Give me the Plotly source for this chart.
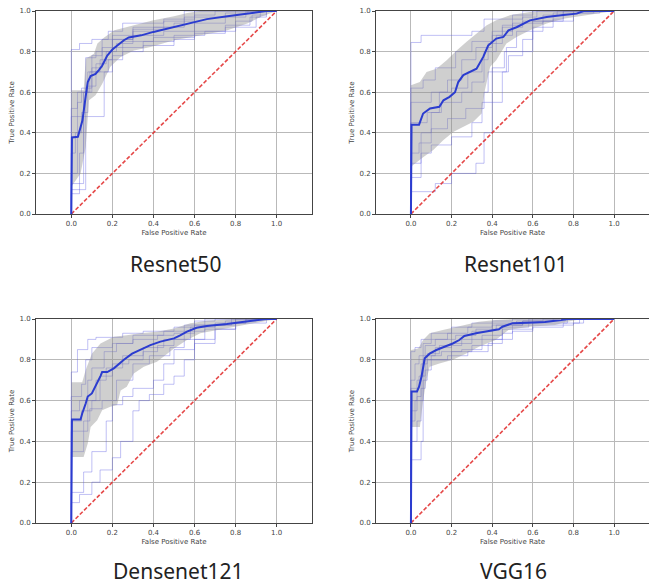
import plotly.graph_objects as go

# ---------------- data ----------------
titles = ["Resnet50", "Resnet101", "Densenet121", "VGG16"]
x_ticks = [0.0, 0.2, 0.4, 0.6, 0.8, 1.0]
y_ticks = [0.0, 0.2, 0.4, 0.6, 0.8, 1.0]
diag = [0.0, 1.0]

# Resnet50
r50_mean_fpr = [0, 0.003, 0.032, 0.054, 0.07, 0.08, 0.094, 0.118, 0.135, 0.15, 0.175, 0.2, 0.224, 0.256, 0.28, 0.34, 0.4, 0.5, 0.6, 0.66, 0.76, 0.89, 0.95, 1.0]
r50_mean_tpr = [0, 0.377, 0.38, 0.46, 0.58, 0.65, 0.68, 0.69, 0.71, 0.73, 0.78, 0.81, 0.83, 0.856, 0.87, 0.88, 0.897, 0.92, 0.946, 0.96, 0.974, 0.99, 1.0, 1.0]
r50_up_fpr = [0, 0.06, 0.07, 0.11, 0.127, 0.16, 0.21, 0.3, 0.4, 0.5, 0.565, 0.63, 1.0]
r50_up_tpr = [0.61, 0.61, 0.765, 0.79, 0.84, 0.87, 0.905, 0.93, 0.954, 0.974, 0.99, 1.0, 1.0]
r50_lo_fpr = [0, 0.045, 0.07, 0.086, 0.118, 0.15, 0.19, 0.24, 0.305, 0.386, 0.5, 0.63, 0.76, 0.857, 0.92, 1.0]
r50_lo_tpr = [0.134, 0.2, 0.33, 0.56, 0.585, 0.64, 0.725, 0.774, 0.806, 0.823, 0.856, 0.88, 0.905, 0.938, 0.97, 1.0]
r50_folds = [
    [(0, 0), (0, 0.81), (0.04, 0.84), (0.1, 0.86), (0.18, 0.9), (0.25, 0.94), (0.45, 0.96), (0.55, 1.0), (1, 1)],
    [(0, 0), (0, 0.12), (0.07, 0.77), (0.12, 0.8), (0.2, 0.86), (0.3, 0.88), (0.45, 0.9), (0.6, 0.94), (0.75, 0.97), (0.85, 1.0), (1, 1)],
    [(0, 0), (0, 0.15), (0.06, 0.6), (0.09, 0.7), (0.14, 0.76), (0.2, 0.82), (0.35, 0.85), (0.5, 0.88), (0.65, 0.9), (0.8, 0.95), (0.88, 0.98), (0.95, 1.0), (1, 1)],
    [(0, 0), (0, 0.48), (0.16, 0.7), (0.2, 0.78), (0.25, 0.85), (0.4, 0.87), (0.6, 0.9), (0.75, 0.93), (0.87, 0.97), (0.92, 1.0), (1, 1)],
    [(0, 0), (0, 0.52), (0.03, 0.6), (0.08, 0.7), (0.12, 0.74), (0.17, 0.8), (0.22, 0.84), (0.3, 0.9), (0.4, 0.92), (0.55, 0.96), (0.6, 0.98), (0.7, 1.0), (1, 1)],
    [(0, 0), (0, 0.2), (0.03, 0.55), (0.05, 0.62), (0.1, 0.78), (0.15, 0.86), (0.3, 0.92), (0.5, 0.94), (0.55, 0.97), (0.6, 1.0), (1, 1)],
    [(0, 0), (0, 0.3), (0.02, 0.4), (0.05, 0.5), (0.08, 0.63), (0.12, 0.7), (0.18, 0.76), (0.25, 0.8), (0.35, 0.83), (0.5, 0.86), (0.6, 0.89), (0.75, 0.92), (0.9, 0.97), (0.95, 1.0), (1, 1)],
    [(0, 0), (0, 0.1), (0.04, 0.3), (0.06, 0.6), (0.1, 0.72), (0.15, 0.82), (0.2, 0.88), (0.3, 0.91), (0.45, 0.95), (0.6, 0.97), (0.75, 0.99), (0.86, 1.0), (1, 1)],
]

# Resnet101
r101_mean_fpr = [0, 0.003, 0.04, 0.06, 0.094, 0.14, 0.16, 0.19, 0.217, 0.233, 0.258, 0.29, 0.323, 0.356, 0.38, 0.42, 0.455, 0.48, 0.52, 0.586, 0.668, 0.75, 0.816, 0.85, 1.0]
r101_mean_tpr = [0, 0.44, 0.44, 0.495, 0.52, 0.528, 0.56, 0.577, 0.6, 0.65, 0.684, 0.7, 0.716, 0.774, 0.83, 0.864, 0.872, 0.905, 0.92, 0.954, 0.97, 0.98, 0.987, 1.0, 1.0]
r101_up_fpr = [0, 0.044, 0.077, 0.126, 0.176, 0.225, 0.274, 0.323, 0.373, 0.42, 0.49, 0.586, 0.67, 1.0]
r101_up_tpr = [0.634, 0.65, 0.7, 0.716, 0.757, 0.806, 0.848, 0.888, 0.93, 0.954, 0.98, 0.995, 1.0, 1.0]
r101_lo_fpr = [0, 0.06, 0.11, 0.16, 0.21, 0.258, 0.307, 0.348, 0.364, 0.39, 0.42, 0.47, 0.52, 0.586, 0.668, 0.75, 0.85, 1.0]
r101_lo_tpr = [0.233, 0.28, 0.315, 0.364, 0.405, 0.43, 0.454, 0.495, 0.61, 0.725, 0.757, 0.84, 0.872, 0.905, 0.938, 0.962, 0.978, 1.0]
r101_folds = [
    [(0, 0), (0, 0.11), (0.12, 0.15), (0.2, 0.2), (0.32, 0.25), (0.36, 0.4), (0.4, 0.55), (0.45, 0.7), (0.48, 0.78), (0.55, 0.8), (0.6, 0.9), (0.65, 0.95), (0.75, 1.0), (1, 1)],
    [(0, 0), (0, 0.845), (0.05, 0.88), (0.3, 0.9), (0.36, 0.96), (0.5, 0.98), (0.6, 1.0), (1, 1)],
    [(0, 0), (0, 0.62), (0.06, 0.66), (0.12, 0.72), (0.22, 0.8), (0.3, 0.85), (0.4, 0.9), (0.5, 0.96), (0.55, 1.0), (1, 1)],
    [(0, 0), (0, 0.25), (0.05, 0.4), (0.1, 0.5), (0.15, 0.55), (0.25, 0.6), (0.3, 0.65), (0.36, 0.8), (0.42, 0.88), (0.5, 0.94), (0.65, 0.98), (0.72, 1.0), (1, 1)],
    [(0, 0), (0, 0.45), (0.08, 0.5), (0.14, 0.6), (0.2, 0.62), (0.28, 0.7), (0.35, 0.76), (0.38, 0.84), (0.45, 0.92), (0.55, 0.95), (0.7, 0.99), (0.93, 1.0), (1, 1)],
    [(0, 0), (0, 0.3), (0.04, 0.35), (0.1, 0.42), (0.18, 0.47), (0.27, 0.52), (0.36, 0.6), (0.38, 0.7), (0.47, 0.82), (0.52, 0.9), (0.6, 0.95), (0.8, 0.99), (0.9, 1.0), (1, 1)],
    [(0, 0), (0, 0.55), (0.1, 0.6), (0.18, 0.66), (0.25, 0.76), (0.32, 0.82), (0.4, 0.88), (0.45, 0.93), (0.55, 0.97), (0.62, 1.0), (1, 1)],
    [(0, 0), (0, 0.18), (0.05, 0.3), (0.1, 0.34), (0.2, 0.38), (0.3, 0.45), (0.35, 0.55), (0.4, 0.72), (0.46, 0.8), (0.55, 0.86), (0.6, 0.92), (0.7, 0.96), (0.75, 1.0), (1, 1)],
]

# Densenet121
d121_mean_fpr = [0, 0.003, 0.045, 0.053, 0.07, 0.08, 0.1, 0.126, 0.142, 0.15, 0.175, 0.207, 0.23, 0.256, 0.296, 0.337, 0.385, 0.434, 0.5, 0.53, 0.563, 0.61, 0.66, 0.757, 0.822, 0.903, 0.95, 1.0]
d121_mean_tpr = [0, 0.507, 0.507, 0.537, 0.586, 0.62, 0.635, 0.684, 0.72, 0.74, 0.74, 0.758, 0.78, 0.8, 0.83, 0.848, 0.872, 0.889, 0.905, 0.92, 0.938, 0.957, 0.966, 0.975, 0.984, 0.992, 1.0, 1.0]
d121_up_fpr = [0, 0.053, 0.07, 0.1, 0.142, 0.207, 0.27, 0.337, 0.417, 0.5, 0.58, 0.66, 0.79, 1.0]
d121_up_tpr = [0.69, 0.69, 0.75, 0.83, 0.88, 0.913, 0.92, 0.93, 0.938, 0.954, 0.979, 0.992, 1.0, 1.0]
d121_lo_fpr = [0, 0.06, 0.08, 0.094, 0.126, 0.15, 0.19, 0.223, 0.24, 0.27, 0.304, 0.353, 0.417, 0.5, 0.563, 0.628, 0.757, 0.887, 1.0]
d121_lo_tpr = [0.324, 0.324, 0.39, 0.47, 0.504, 0.553, 0.57, 0.578, 0.65, 0.668, 0.733, 0.766, 0.79, 0.856, 0.897, 0.93, 0.954, 0.979, 1.0]
d121_folds = [
    [(0, 0), (0, 0.1), (0.04, 0.14), (0.1, 0.2), (0.14, 0.26), (0.2, 0.32), (0.24, 0.4), (0.3, 0.55), (0.33, 0.6), (0.38, 0.63), (0.45, 0.68), (0.5, 0.72), (0.55, 0.8), (0.6, 0.88), (0.7, 0.95), (0.8, 0.98), (0.85, 1.0), (1, 1)],
    [(0, 0), (0, 0.15), (0.06, 0.25), (0.1, 0.35), (0.17, 0.5), (0.2, 0.58), (0.25, 0.62), (0.3, 0.66), (0.4, 0.7), (0.45, 0.78), (0.5, 0.85), (0.6, 0.9), (0.7, 0.97), (0.8, 1.0), (1, 1)],
    [(0, 0), (0, 0.74), (0.03, 0.85), (0.08, 0.9), (0.12, 0.91), (0.25, 0.93), (0.35, 0.94), (0.5, 0.96), (0.6, 0.99), (0.7, 1.0), (1, 1)],
    [(0, 0), (0, 0.62), (0.05, 0.68), (0.07, 0.8), (0.1, 0.86), (0.2, 0.88), (0.3, 0.92), (0.45, 0.94), (0.55, 0.97), (0.65, 1.0), (1, 1)],
    [(0, 0), (0, 0.35), (0.06, 0.45), (0.08, 0.6), (0.12, 0.7), (0.17, 0.76), (0.25, 0.82), (0.35, 0.86), (0.45, 0.9), (0.55, 0.94), (0.65, 0.97), (0.78, 1.0), (1, 1)],
    [(0, 0), (0, 0.5), (0.05, 0.55), (0.1, 0.6), (0.14, 0.72), (0.2, 0.78), (0.28, 0.8), (0.35, 0.84), (0.42, 0.87), (0.5, 0.9), (0.58, 0.96), (0.7, 0.98), (0.85, 1.0), (1, 1)],
    [(0, 0), (0, 0.55), (0.04, 0.6), (0.08, 0.7), (0.1, 0.76), (0.16, 0.84), (0.22, 0.88), (0.3, 0.9), (0.42, 0.92), (0.5, 0.93), (0.6, 0.97), (0.75, 0.99), (0.9, 1.0), (1, 1)],
    [(0, 0), (0, 0.45), (0.06, 0.5), (0.09, 0.56), (0.15, 0.6), (0.22, 0.7), (0.3, 0.78), (0.38, 0.82), (0.48, 0.86), (0.55, 0.9), (0.65, 0.95), (0.8, 0.98), (0.95, 1.0), (1, 1)],
]

# VGG16
vgg_mean_fpr = [0, 0.003, 0.03, 0.04, 0.052, 0.068, 0.092, 0.125, 0.165, 0.206, 0.238, 0.263, 0.32, 0.384, 0.433, 0.45, 0.5, 0.58, 0.66, 0.74, 0.773, 1.0]
vgg_mean_tpr = [0, 0.645, 0.645, 0.668, 0.717, 0.807, 0.83, 0.848, 0.864, 0.88, 0.897, 0.917, 0.93, 0.94, 0.95, 0.962, 0.979, 0.982, 0.985, 0.995, 1.0, 1.0]
vgg_up_fpr = [0, 0.036, 0.06, 0.092, 0.157, 0.254, 0.335, 0.417, 0.5, 1.0]
vgg_up_tpr = [0.848, 0.856, 0.897, 0.93, 0.946, 0.97, 0.987, 0.995, 1.0, 1.0]
vgg_lo_fpr = [0, 0.044, 0.06, 0.076, 0.092, 0.14, 0.206, 0.27, 0.335, 0.417, 0.48, 0.58, 0.71, 0.77, 0.84, 1.0]
vgg_lo_tpr = [0.47, 0.47, 0.6, 0.7, 0.766, 0.782, 0.8, 0.83, 0.864, 0.897, 0.946, 0.962, 0.97, 0.987, 1.0, 1.0]
vgg_folds = [
    [(0, 0), (0, 0.31), (0.05, 0.4), (0.06, 0.8), (0.1, 0.82), (0.15, 0.84), (0.25, 0.85), (0.35, 0.9), (0.45, 0.93), (0.5, 0.97), (0.6, 0.98), (0.77, 1.0), (1, 1)],
    [(0, 0), (0, 0.84), (0.02, 0.86), (0.05, 0.9), (0.1, 0.93), (0.2, 0.96), (0.3, 0.98), (0.4, 0.99), (0.5, 1.0), (1, 1)],
    [(0, 0), (0, 0.4), (0.03, 0.5), (0.05, 0.72), (0.07, 0.82), (0.12, 0.86), (0.2, 0.88), (0.3, 0.94), (0.4, 0.97), (0.55, 0.99), (0.7, 1.0), (1, 1)],
    [(0, 0), (0, 0.6), (0.03, 0.7), (0.05, 0.78), (0.08, 0.8), (0.18, 0.82), (0.28, 0.84), (0.38, 0.88), (0.45, 0.95), (0.6, 0.97), (0.8, 0.98), (0.83, 1.0), (1, 1)],
    [(0, 0), (0, 0.7), (0.02, 0.78), (0.04, 0.82), (0.07, 0.87), (0.12, 0.9), (0.22, 0.92), (0.32, 0.95), (0.42, 0.97), (0.55, 0.99), (0.65, 1.0), (1, 1)],
    [(0, 0), (0, 0.5), (0.02, 0.6), (0.06, 0.7), (0.08, 0.83), (0.14, 0.87), (0.25, 0.9), (0.35, 0.92), (0.45, 0.96), (0.58, 1.0), (1, 1)],
    [(0, 0), (0, 0.66), (0.04, 0.72), (0.06, 0.88), (0.1, 0.9), (0.18, 0.93), (0.28, 0.96), (0.4, 0.98), (0.52, 0.99), (0.76, 1.0), (1, 1)],
    [(0, 0), (0, 0.55), (0.03, 0.62), (0.05, 0.66), (0.07, 0.75), (0.1, 0.8), (0.2, 0.84), (0.3, 0.87), (0.4, 0.9), (0.5, 0.94), (0.6, 0.96), (0.75, 0.98), (0.85, 1.0), (1, 1)],
]

panels = [
    (r50_mean_fpr, r50_mean_tpr, r50_up_fpr, r50_up_tpr, r50_lo_fpr, r50_lo_tpr, r50_folds),
    (r101_mean_fpr, r101_mean_tpr, r101_up_fpr, r101_up_tpr, r101_lo_fpr, r101_lo_tpr, r101_folds),
    (d121_mean_fpr, d121_mean_tpr, d121_up_fpr, d121_up_tpr, d121_lo_fpr, d121_lo_tpr, d121_folds),
    (vgg_mean_fpr, vgg_mean_tpr, vgg_up_fpr, vgg_up_tpr, vgg_lo_fpr, vgg_lo_tpr, vgg_folds),
]

# ---------------- layout geometry (pixels) ----------------
W, H = 649, 587
boxes = [  # left, right, top, bottom in px
    (36, 312, 11, 214),
    (376, 649, 11, 214),
    (36, 312, 319, 523),
    (376, 649, 319, 523),
]
title_pos = [(175, 264), (515, 264), (178, 571), (513, 571)]

FOLD_COLOR = "rgba(90,90,225,0.38)"
BAND_COLOR = "rgba(140,140,140,0.42)"
MEAN_COLOR = "#2b3ccf"
DIAG_COLOR = "rgba(225,40,40,0.85)"

fig = go.Figure()
layout = {}
for i, (mf, mt, uf, ut, lf, lt, folds) in enumerate(panels):
    n = i + 1
    xa = "x" if n == 1 else f"x{n}"
    ya = "y" if n == 1 else f"y{n}"
    for fold in folds:
        fig.add_trace(go.Scatter(
            x=[p[0] for p in fold], y=[p[1] for p in fold], xaxis=xa, yaxis=ya,
            mode="lines", line=dict(color=FOLD_COLOR, width=1, shape="hv"),
            showlegend=False, hoverinfo="skip"))
    fig.add_trace(go.Scatter(
        x=list(uf) + list(lf)[::-1], y=list(ut) + list(lt)[::-1], xaxis=xa, yaxis=ya,
        mode="lines", fill="toself", fillcolor=BAND_COLOR, line=dict(width=0),
        showlegend=False, hoverinfo="skip"))
    fig.add_trace(go.Scatter(
        x=diag, y=diag, xaxis=xa, yaxis=ya, mode="lines",
        line=dict(color=DIAG_COLOR, width=1.6, dash="4px,2px"), showlegend=False))
    fig.add_trace(go.Scatter(
        x=mf, y=mt, xaxis=xa, yaxis=ya, mode="lines",
        line=dict(color=MEAN_COLOR, width=2), showlegend=False))

    l, r, t, b = boxes[i]
    common = dict(
        showgrid=True, gridcolor="#b9b9b9", gridwidth=1,
        showline=True, linecolor="#444444", linewidth=1, mirror=True,
        ticks="outside", ticklen=3, tickcolor="#444444",
        tickfont=dict(family="DejaVu Sans", size=7, color="#444444"),
        zeroline=False, automargin=False, tickformat=".1f",
    )
    layout["xaxis" if n == 1 else f"xaxis{n}"] = dict(
        common, domain=[l / W, min(r / W, 1.0)], range=[-0.172, 1.172],
        tickvals=x_ticks, anchor=ya,
        title=dict(text="False Positive Rate", standoff=2,
                   font=dict(family="DejaVu Sans", size=7, color="#444444")))
    layout["yaxis" if n == 1 else f"yaxis{n}"] = dict(
        common, domain=[1 - b / H, 1 - t / H], range=[0, 1],
        tickvals=y_ticks, anchor=xa,
        title=dict(text="True Positive Rate", standoff=4,
                   font=dict(family="DejaVu Sans", size=7, color="#444444")))

annotations = []
for (cx, cy), txt in zip(title_pos, titles):
    annotations.append(dict(
        x=cx / W, y=1 - cy / H, xref="paper", yref="paper", text=txt,
        showarrow=False, xanchor="center", yanchor="middle",
        font=dict(family="Noto Sans", size=21, color="#222222")))

fig.update_layout(
    width=W, height=H, margin=dict(l=0, r=0, t=0, b=0),
    paper_bgcolor="white", plot_bgcolor="white",
    annotations=annotations, showlegend=False, **layout)

fig.write_html(
    "out.html",
    config={"displayModeBar": False},
    post_script="document.body.style.margin='0';document.body.style.overflow='hidden';")
